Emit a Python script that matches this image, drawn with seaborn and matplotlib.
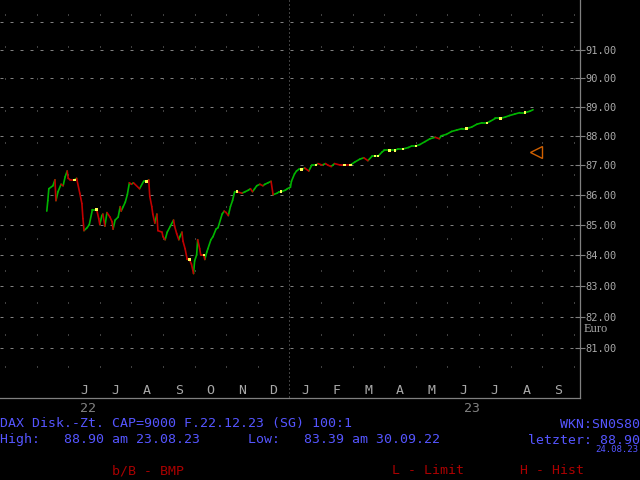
import numpy as np
import pandas as pd
import seaborn as sns
import matplotlib
matplotlib.use("Agg")
import matplotlib.pyplot as plt
from matplotlib import ticker

# daily quotes (date, price in Euro)
dates = [
    "2022-05-11", "2022-05-12", "2022-05-13", "2022-05-17", "2022-05-19", "2022-05-20",
    "2022-05-22", "2022-05-25", "2022-05-27", "2022-05-29", "2022-05-31",
    "2022-06-01", "2022-06-03", "2022-06-07", "2022-06-09", "2022-06-12", "2022-06-14",
    "2022-06-15", "2022-06-16", "2022-06-19", "2022-06-21", "2022-06-24", "2022-06-28",
    "2022-06-30",
    "2022-07-01", "2022-07-03", "2022-07-04", "2022-07-06", "2022-07-08", "2022-07-11",
    "2022-07-13", "2022-07-14", "2022-07-16", "2022-07-19", "2022-07-21", "2022-07-22",
    "2022-07-24", "2022-07-26", "2022-07-28", "2022-07-30",
    "2022-08-01", "2022-08-03", "2022-08-09", "2022-08-13", "2022-08-16", "2022-08-18",
    "2022-08-19", "2022-08-21", "2022-08-22", "2022-08-24", "2022-08-26", "2022-08-27",
    "2022-08-31",
    "2022-09-01", "2022-09-03", "2022-09-05", "2022-09-08", "2022-09-11", "2022-09-12",
    "2022-09-14", "2022-09-16", "2022-09-17", "2022-09-19", "2022-09-20", "2022-09-22",
    "2022-09-24", "2022-09-26", "2022-09-28", "2022-09-30",
    "2022-10-01", "2022-10-03", "2022-10-04", "2022-10-06", "2022-10-07", "2022-10-10",
    "2022-10-11", "2022-10-13", "2022-10-14", "2022-10-17", "2022-10-19", "2022-10-22",
    "2022-10-24", "2022-10-28", "2022-10-30",
    "2022-11-01", "2022-11-03", "2022-11-05", "2022-11-07", "2022-11-09", "2022-11-11",
    "2022-11-16", "2022-11-19", "2022-11-22", "2022-11-24", "2022-11-26", "2022-11-28",
    "2022-11-30",
    "2022-12-03", "2022-12-06", "2022-12-08", "2022-12-11", "2022-12-14", "2022-12-16",
    "2022-12-20", "2022-12-22", "2022-12-24", "2022-12-28", "2022-12-30",
    "2023-01-02", "2023-01-03", "2023-01-06", "2023-01-08", "2023-01-10", "2023-01-13",
    "2023-01-16", "2023-01-20", "2023-01-23", "2023-01-27", "2023-01-29",
    "2023-02-02", "2023-02-05", "2023-02-07", "2023-02-10", "2023-02-13", "2023-02-18",
    "2023-02-22", "2023-02-27",
    "2023-03-03", "2023-03-08", "2023-03-12", "2023-03-16", "2023-03-20", "2023-03-23",
    "2023-03-26", "2023-03-30",
    "2023-04-01", "2023-04-06", "2023-04-11", "2023-04-14", "2023-04-19", "2023-04-24",
    "2023-04-27",
    "2023-05-01", "2023-05-05", "2023-05-10", "2023-05-15", "2023-05-20", "2023-05-24",
    "2023-05-26", "2023-05-31",
    "2023-06-05", "2023-06-10", "2023-06-15", "2023-06-19", "2023-06-24", "2023-06-29",
    "2023-07-04", "2023-07-09", "2023-07-12", "2023-07-17", "2023-07-22", "2023-07-27",
    "2023-07-31",
    "2023-08-05", "2023-08-10", "2023-08-15", "2023-08-20", "2023-08-23",
]
prices = [
    85.45, 85.8, 86.2, 86.3, 86.5, 85.8,
    86.1, 86.35, 86.3, 86.6, 86.8,
    86.55, 86.5, 86.5, 86.55, 86.05, 85.7,
    85.2, 84.8, 84.9, 85.0, 85.5, 85.5,
    85.2,
    85.0, 85.3, 85.35, 84.95, 85.4, 85.25,
    85.1, 84.85, 85.15, 85.25, 85.6, 85.45,
    85.6, 85.75, 86.0, 86.4,
    86.35, 86.4, 86.2, 86.45, 86.45, 86.5,
    85.95, 85.6, 85.35, 85.05, 85.35, 84.8,
    84.75,
    84.6, 84.5, 84.75, 84.95, 85.15, 84.95,
    84.7, 84.5, 84.6, 84.75, 84.45, 84.2,
    83.85, 83.85, 83.7, 83.39,
    83.8, 84.0, 84.5, 84.2, 84.0, 84.0,
    83.85, 84.1, 84.2, 84.5, 84.6, 84.85,
    84.9, 85.35, 85.45,
    85.4, 85.3, 85.6, 85.8, 86.1, 86.1,
    86.05, 86.1, 86.15, 86.2, 86.1, 86.2,
    86.3,
    86.35, 86.3, 86.35, 86.4, 86.45, 86.0,
    86.05, 86.1, 86.1, 86.15, 86.2,
    86.25, 86.45, 86.7, 86.8, 86.85, 86.85,
    86.9, 86.8, 87.0, 87.0, 87.05,
    87.0, 87.05, 87.0, 86.95, 87.05, 87.0,
    87.0, 87.0,
    87.1, 87.2, 87.25, 87.15, 87.3, 87.3,
    87.3, 87.45,
    87.5, 87.5, 87.5, 87.55, 87.55, 87.6,
    87.65,
    87.65, 87.7, 87.8, 87.9, 87.95, 87.9,
    88.0, 88.05,
    88.15, 88.2, 88.25, 88.25, 88.3, 88.4,
    88.45, 88.45, 88.5, 88.6, 88.6, 88.65,
    88.7,
    88.75, 88.8, 88.8, 88.85, 88.9,
]
limit_date = "2023-08-26"
limit_price = 87.45

month_labels = ["", "", "J", "J", "A", "S", "O", "N", "D",
                "J", "F", "M", "A", "M", "J", "J", "A", "S"]
y_ticks = [81, 82, 83, 84, 85, 86, 87, 88, 89, 90, 91]
y_grid = y_ticks + [92]

header = "DAX Disk.-Zt. CAP=9000 F.22.12.23 (SG) 100:1"
wkn = "WKN:SN0S80"
highlow = "High:   88.90 am 23.08.23      Low:   83.39 am 30.09.22"
last = "letzter: 88.90"
last_date = "24.08.23"
keys = [(112, "b/B - BMP"), (392, "L - Limit"), (520, "H - Hist")]

GRAY = "#808080"
LGRAY = "#a8a8a8"
BLUE = "#5555ff"
RED = "#aa0000"


def month_pos(s):
    # months are drawn with equal width, counted from April 2022
    d = pd.to_datetime(pd.Series(s)).dt
    return ((d.year - 2022) * 12 + d.month - 4 + (d.day - 1) / d.days_in_month).to_numpy()


df = pd.DataFrame({"m": month_pos(dates), "price": prices})

# one little segment per quote, coloured by direction (unchanged keeps the last colour)
rows = []
kind = "up"
for i in range(1, len(df)):
    p0, p1 = df.price[i - 1], df.price[i]
    if p1 > p0:
        kind = "up"
    elif p1 < p0:
        kind = "down"
    rows.append((i, df.m[i - 1], p0, kind))
    rows.append((i, df.m[i], p1, kind))
seg = pd.DataFrame(rows, columns=["seg", "m", "price", "kind"])
# unchanged quotes show as small yellow marks
flat = df[df.price.diff() == 0]

sns.set_style("dark", {"axes.facecolor": "black", "figure.facecolor": "black"})
plt.rcParams["font.family"] = ["DejaVu Sans Mono"]

fig = plt.figure(figsize=(6.4, 4.8), dpi=100)
fig.patch.set_facecolor("black")
ax = fig.add_axes([0, 82 / 480, 580 / 640, 398 / 480])
ax.set_facecolor("black")
ax.set_yscale("log")
ax.grid(False)

# grid: dashed price levels, dotted month lines, denser dotted year line
for v in y_grid:
    ax.axhline(v, color=GRAY, lw=0.72, ls=(0, (3, 7)), zorder=1)
trans = ax.get_xaxis_transform()
for m in range(19):
    if m == 9:
        ax.plot([m, m], [1, 0], transform=trans, color=GRAY, lw=0.72,
                ls=(0, (1, 3)), zorder=1)
    else:
        ax.plot([m, m], [1, 15 / 398], transform=trans, color=GRAY, lw=0.72,
                ls=(18, (1, 31)), zorder=1)

sns.lineplot(data=seg, x="m", y="price", hue="kind", units="seg", estimator=None,
             sort=False, legend=False, lw=1.2, ax=ax, zorder=3,
             palette={"up": "#00b400", "down": "#c00000"})
sns.scatterplot(data=flat, x="m", y="price", marker="s", s=3, color="#ffff55",
                edgecolor="none", legend=False, ax=ax, zorder=4)

ax.plot(month_pos([limit_date]), [limit_price], marker="<", ms=8, mfc="none",
        mec="#d06000", mew=1, ls="none", zorder=4)

ax.set_xlim(-5 / 31.6, 575 / 31.6)
ax.set_ylim(91 * np.exp(-348 / 2560), 91 * np.exp(50 / 2560))

for s in ["left", "top"]:
    ax.spines[s].set_visible(False)
for s in ["right", "bottom"]:
    ax.spines[s].set_color(GRAY)
    ax.spines[s].set_linewidth(0.9)

ax.yaxis.tick_right()
ax.set_yticks(y_ticks)
ax.yaxis.set_major_formatter(ticker.FormatStrFormatter("%.2f"))
ax.yaxis.set_minor_locator(ticker.NullLocator())
ax.yaxis.set_minor_formatter(ticker.NullFormatter())
ax.tick_params(axis="y", which="major", direction="inout", length=7, width=0.8,
               color=GRAY, labelcolor=LGRAY, labelsize=7.5, pad=0.5)
ax.set_xticks(range(19))
ax.set_xticklabels([])
ax.tick_params(axis="x", direction="in", length=3, width=0.8, color=GRAY)
ax.set_xlabel("")
ax.set_ylabel("")

for m, lab in enumerate(month_labels):
    ax.text(m + 0.5, 7 / 398, lab, transform=trans, ha="center", va="center",
            color=LGRAY, fontsize=9.5)


def put(x, y, s, color, ha="left", size=9.5, **kw):
    fig.text(x / 640, 1 - y / 480, s, color=color, ha=ha, va="center",
             fontsize=size, **kw)


put(88, 408, "22", GRAY, ha="center")
put(472, 408, "23", GRAY, ha="center")
put(584, 329, "Euro", LGRAY, size=9, family="Liberation Serif")
put(0, 424, header, BLUE)
put(640, 424, wkn, BLUE, ha="right")
put(0, 440, highlow, BLUE)
put(640, 440, last, BLUE, ha="right")
put(638, 450, last_date, BLUE, ha="right", size=6.5)
for x, s in keys:
    put(x, 471, s, RED)

fig.savefig("out.png", dpi=100, facecolor="black")
